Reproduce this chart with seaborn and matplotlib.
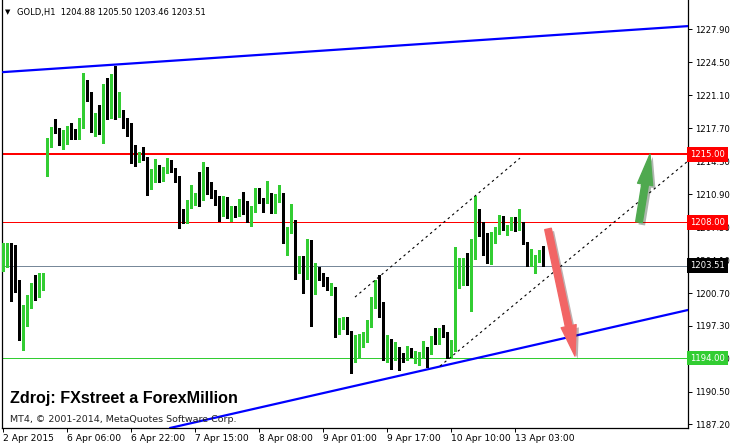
import numpy as np
import pandas as pd
import matplotlib
matplotlib.use("Agg")
import matplotlib.pyplot as plt
import matplotlib.patheffects as pe
from matplotlib.patches import FancyArrowPatch
from matplotlib.transforms import blended_transform_factory
import seaborn as sns

# GOLD H1 candles, 2 Apr - 13 Apr 2015
opens = [1203.3, 1204.1, 1204.6, 1202.6, 1201.8, 1196.6, 1199.0, 1199.7, 1200.8, 1200.6, 1201.1,
         1213.2, 1216.2, 1217.7, 1217.5, 1216.4, 1217.1, 1217.6, 1217.0, 1216.8, 1218.3,
         1222.2, 1220.8, 1218.1, 1219.2, 1217.2, 1221.9, 1218.8, 1222.4, 1219.2, 1219.5,
         1218.5, 1218.1, 1215.7, 1214.6, 1214.7, 1214.6, 1211.6, 1212.6, 1213.7, 1212.4,
         1213.2, 1214.3, 1213.4, 1212.4, 1208.2, 1208.0, 1209.7, 1210.3, 1211.0, 1210.8,
         1213.6, 1211.8, 1211.0, 1210.1, 1209.0, 1210.3, 1208.6, 1209.6, 1208.7, 1209.9,
         1209.3, 1208.5, 1209.6, 1210.6, 1210.4, 1210.2, 1210.9, 1209.5, 1210.6, 1210.9,
         1206.1, 1207.0, 1207.9, 1203.4, 1204.0, 1202.3, 1206.1, 1200.7, 1203.3, 1202.6,
         1201.6, 1201.1, 1201.2, 1197.0, 1197.1, 1198.0, 1196.7, 1194.5, 1195.4, 1195.6,
         1196.2, 1197.3, 1199.4, 1201.5, 1199.0, 1195.2, 1195.3, 1194.6, 1194.8, 1194.4,
         1193.9, 1194.9, 1194.1, 1194.2, 1194.4, 1195.0, 1194.5, 1196.2, 1195.6, 1196.9,
         1196.4, 1194.3, 1194.9, 1202.2, 1202.7, 1203.6, 1201.7, 1204.8, 1207.9, 1207.5,
         1205.9, 1204.1, 1206.8, 1207.0, 1208.4, 1207.0, 1207.3, 1207.9, 1207.3, 1207.9,
         1205.9, 1203.6, 1203.8, 1204.0, 1204.88]
closes = [1204.2, 1204.6, 1202.6, 1201.7, 1196.6, 1199.1, 1199.8, 1200.8, 1200.7, 1201.2, 1202.5,
          1216.3, 1217.7, 1217.3, 1216.4, 1217.2, 1217.6, 1217.0, 1216.8, 1218.4, 1222.1,
          1220.7, 1218.2, 1219.1, 1217.2, 1221.9, 1218.8, 1222.5, 1219.3, 1219.6, 1218.4,
          1217.9, 1215.7, 1214.7, 1214.8, 1214.5, 1211.5, 1212.6, 1213.8, 1212.4, 1213.3,
          1214.3, 1213.3, 1212.2, 1208.1, 1208.0, 1209.8, 1210.4, 1210.9, 1210.7, 1213.6,
          1211.8, 1211.0, 1210.0, 1209.1, 1210.3, 1208.9, 1209.6, 1208.7, 1209.8, 1209.3,
          1208.5, 1209.6, 1210.6, 1210.3, 1210.2, 1210.9, 1209.5, 1210.7, 1210.8, 1206.3,
          1207.0, 1207.9, 1203.5, 1204.0, 1202.3, 1206.1, 1200.9, 1203.6, 1202.3, 1201.5,
          1201.2, 1201.2, 1197.0, 1197.2, 1198.1, 1196.6, 1194.5, 1195.7, 1195.6, 1196.2,
          1197.3, 1199.5, 1201.5, 1199.1, 1195.3, 1195.4, 1194.7, 1194.8, 1194.3, 1193.9,
          1194.9, 1194.5, 1194.2, 1194.5, 1195.1, 1194.4, 1196.2, 1195.6, 1196.9, 1196.3,
          1194.4, 1194.9, 1202.2, 1202.7, 1203.5, 1201.7, 1204.8, 1207.6, 1207.5, 1205.8,
          1204.2, 1206.8, 1207.1, 1208.4, 1207.4, 1207.4, 1207.9, 1207.2, 1207.9, 1205.9,
          1203.6, 1203.8, 1204.1, 1205.0, 1203.51]
highs = [1205.9, 1205.9, 1205.9, 1205.6, 1202.0, 1199.5, 1200.5, 1201.7, 1202.6, 1202.8, 1202.8,
         1216.7, 1217.8, 1218.6, 1217.7, 1217.5, 1217.9, 1218.2, 1217.6, 1218.7, 1223.4,
         1222.6, 1221.4, 1219.2, 1220.1, 1222.2, 1222.9, 1223.3, 1224.1, 1221.4, 1219.6,
         1218.7, 1218.2, 1216.0, 1215.2, 1215.7, 1214.7, 1213.5, 1214.5, 1213.9, 1213.7,
         1214.6, 1214.4, 1213.6, 1212.8, 1209.4, 1210.3, 1211.8, 1211.0, 1213.2, 1214.2,
         1213.7, 1212.1, 1211.3, 1210.7, 1210.7, 1210.6, 1209.7, 1209.7, 1210.4, 1211.1,
         1210.2, 1209.7, 1211.5, 1211.5, 1210.5, 1212.2, 1211.0, 1210.9, 1211.8, 1211.0,
         1207.5, 1209.9, 1208.2, 1204.5, 1204.5, 1206.3, 1206.2, 1203.8, 1203.4, 1202.8,
         1202.3, 1201.7, 1201.3, 1198.1, 1198.2, 1198.2, 1196.8, 1196.4, 1196.5, 1196.7,
         1197.9, 1200.3, 1202.0, 1202.6, 1199.8, 1196.4, 1196.0, 1195.6, 1195.1, 1194.5,
         1195.2, 1195.0, 1194.7, 1194.6, 1195.8, 1195.1, 1196.3, 1197.1, 1197.1, 1197.4,
         1196.7, 1195.9, 1205.4, 1204.3, 1204.3, 1204.8, 1206.3, 1210.7, 1209.4, 1208.0,
         1206.9, 1207.0, 1207.5, 1208.7, 1208.6, 1207.7, 1208.5, 1208.5, 1209.4, 1208.0,
         1206.0, 1205.2, 1204.6, 1205.1, 1205.50]
lows = [1203.0, 1203.4, 1199.9, 1200.8, 1195.9, 1194.8, 1197.3, 1199.2, 1200.0, 1200.3, 1201.0,
        1212.8, 1215.7, 1217.2, 1215.9, 1215.5, 1216.1, 1216.6, 1216.6, 1216.6, 1217.7,
        1220.5, 1217.3, 1216.9, 1217.1, 1216.2, 1218.6, 1218.7, 1218.6, 1218.8, 1217.7,
        1216.9, 1214.1, 1213.8, 1214.2, 1214.4, 1210.8, 1211.4, 1212.1, 1212.1, 1212.2,
        1213.1, 1213.2, 1212.1, 1207.4, 1207.9, 1207.9, 1209.5, 1209.8, 1209.7, 1210.3,
        1210.9, 1210.5, 1209.8, 1208.1, 1208.6, 1208.4, 1208.1, 1208.5, 1208.6, 1208.8,
        1208.0, 1207.6, 1209.0, 1210.0, 1209.0, 1210.0, 1208.9, 1208.9, 1210.1, 1205.9,
        1204.6, 1206.9, 1202.1, 1202.8, 1200.7, 1202.1, 1197.3, 1200.6, 1202.0, 1201.4,
        1201.0, 1200.5, 1196.2, 1196.5, 1197.0, 1196.5, 1192.5, 1193.6, 1194.0, 1195.1,
        1195.7, 1197.2, 1199.2, 1198.2, 1193.8, 1193.6, 1192.9, 1193.8, 1192.8, 1193.6,
        1193.8, 1194.1, 1193.5, 1193.3, 1194.1, 1193.1, 1194.4, 1195.4, 1195.4, 1196.2,
        1194.0, 1194.1, 1194.7, 1201.2, 1201.5, 1201.5, 1198.8, 1204.2, 1206.6, 1204.6,
        1203.8, 1203.7, 1205.9, 1206.8, 1207.2, 1206.7, 1207.2, 1207.1, 1207.2, 1205.8,
        1203.5, 1203.5, 1202.8, 1203.9, 1203.46]

time_ticks = [0, 16, 32, 48, 64, 80, 96, 112, 128]
time_labels = ["2 Apr 2015", "6 Apr 06:00", "6 Apr 22:00", "7 Apr 15:00", "8 Apr 08:00",
               "9 Apr 01:00", "9 Apr 17:00", "10 Apr 10:00", "13 Apr 03:00"]
price_ticks = [1227.90, 1224.50, 1221.10, 1217.70, 1214.30, 1210.90, 1207.50,
               1204.10, 1200.70, 1197.30, 1193.90, 1190.50, 1187.20]

# horizontal levels and drawn objects (bar index, price)
levels = {"1215.00": (1215.0, "#ff0000", 2.0), "1208.00": (1208.0, "#ff0000", 1.0),
          "1194.00": (1194.0, "#32cd32", 1.0)}
last_price = 1203.51
upper_trend = ([0, 171.25], [1223.46, 1228.2])
lower_trend = ([41.75, 171.25], [1186.79, 1198.95])
upper_channel = ([88, 129.25], [1200.28, 1214.6])
lower_channel = ([109.25, 171.25], [1193.17, 1214.3])
green_arrow = ((159, 1208.0), (161.75, 1215.0))
red_arrow = ((136.25, 1207.3), (143, 1194.2))

df = pd.DataFrame({"open": opens, "high": highs, "low": lows, "close": closes})
df["bar"] = np.arange(len(df))
df["up"] = df["close"] >= df["open"]

sns.set_theme(style="white")
plt.rcParams["font.family"] = ["DejaVu Sans"]

px = 1 / 100
fig = plt.figure(figsize=(731 * px, 446 * px), dpi=100)
ax = fig.add_axes([2 / 731, 18 / 446, 686 / 731, 428 / 446])
ax.set_facecolor("white")

# level lines
for name, (val, col, lw) in levels.items():
    ax.axhline(val, color=col, lw=lw * 0.72, zorder=2)
ax.axhline(last_price, color="#778899", lw=0.72, zorder=2)

# candles
colors = np.where(df["up"], "#32cd32", "#000000")
ax.vlines(df["bar"], df["low"], df["high"], colors=colors, lw=0.75, zorder=3, antialiased=False)
body_low = np.minimum(df["open"], df["close"])
body_h = np.maximum((df["close"] - df["open"]).abs(), 0.1)
ax.bar(df["bar"], body_h, bottom=body_low, width=0.66, color=colors, linewidth=0, zorder=4,
       antialiased=False)

# trend lines
for xs, ys in (upper_trend, lower_trend):
    sns.lineplot(x=xs, y=ys, ax=ax, color="#0000ff", lw=1.6, zorder=5)
for xs, ys in (upper_channel, lower_channel):
    ax.plot(xs, ys, color="black", lw=0.8, ls=(0, (2.2, 3)), zorder=5)

# arrows
for (start, end), col in ((green_arrow, "#4fa94f"), (red_arrow, "#f26565")):
    arr = FancyArrowPatch(start, end, arrowstyle="simple,tail_width=4.8,head_width=11,head_length=22",
                          mutation_scale=1, color=col, zorder=6, shrinkA=0, shrinkB=0,
                          path_effects=[pe.SimplePatchShadow(offset=(2, -2), alpha=0.35), pe.Normal()])
    ax.add_patch(arr)

ax.set_xlim(-0.25, 171.25)
ax.set_ylim(1186.79, 1230.89)

# axes styling
for s in ("left", "right", "bottom"):
    ax.spines[s].set_color("black")
    ax.spines[s].set_linewidth(0.9)
ax.spines["top"].set_visible(False)
ax.yaxis.tick_right()
ax.set_yticks(price_ticks)
ax.set_yticklabels([f"{v:.2f}" for v in price_ticks])
ax.set_xticks(time_ticks)
ax.set_xticklabels(time_labels, ha="left")
ax.tick_params(axis="y", which="both", right=True, left=False, length=3, width=0.7,
               pad=2, labelsize=6.1, colors="black")
ax.tick_params(axis="x", which="both", bottom=True, length=3, width=0.7,
               pad=1.5, labelsize=6.6, colors="black")
ax.set_xlabel("")
ax.set_ylabel("")
ax.grid(False)

# price labels on the right scale
trans = blended_transform_factory(ax.transAxes, ax.transData)
tags = [("1215.00", 1215.0, "#ff0000"), ("1208.00", 1208.0, "#ff0000"),
        ("1194.00", 1194.0, "#32cd32"), ("1203.51", last_price, "#000000")]
for txt, val, col in tags:
    ax.text(1.003, val, txt, transform=trans, ha="left", va="center", fontsize=6.1,
            color="white", zorder=10, clip_on=False,
            bbox=dict(boxstyle="square,pad=0.35", fc=col, ec="none"))

# captions
fig.text(5 / 731, 1 - 12 / 446, "▼", fontsize=5, va="center", ha="left", color="black")
fig.text(17 / 731, 1 - 12 / 446, "GOLD,H1  1204.88 1205.50 1203.46 1203.51",
         fontsize=6.0, va="center", ha="left", color="black")
fig.text(10 / 731, 1 - 399 / 446, "Zdroj: FXstreet a ForexMillion", fontsize=11.6,
         fontweight="bold", family="Liberation Sans", va="center", ha="left", color="black")
fig.text(10 / 731, 1 - 420 / 446, "MT4, © 2001-2014, MetaQuotes Software Corp.",
         fontsize=6.8, va="center", ha="left", color="#222222")

fig.savefig("out.png", dpi=100, facecolor="white")
